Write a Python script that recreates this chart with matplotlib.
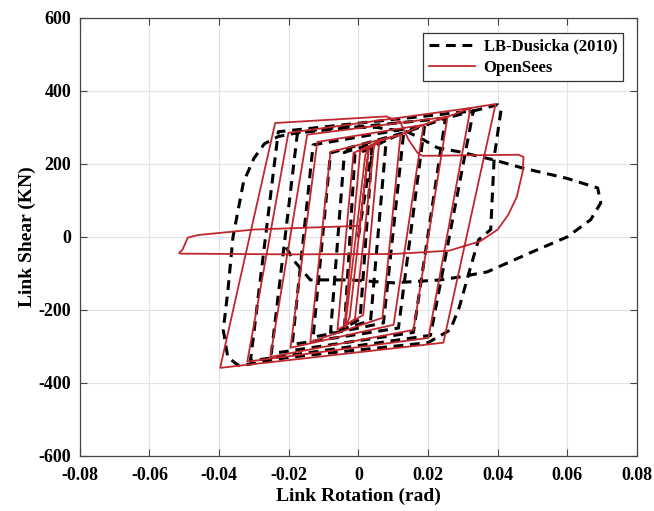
import numpy as np
import matplotlib
matplotlib.use("Agg")
import matplotlib.pyplot as plt

# Ciclos histereticos: cada ciclo = esquinas (sup-der, inf-der, inf-izq, sup-izq)
# --- LB-Dusicka (2010), ensayo ---
exp_loops_x = [
    [0.0040, 0.0005, -0.0040, -0.0010],
    [0.0080, 0.0035, -0.0080, -0.0040],
    [0.0130, 0.0072, -0.0130, -0.0080],
    [0.0190, 0.0115, -0.0190, -0.0130],
    [0.0250, 0.0158, -0.0250, -0.0175],
    [0.0330, 0.0207, -0.0310, -0.0230],
]
exp_loops_y = [
    [245, -225, -250, 225],
    [265, -230, -262, 232],
    [285, -236, -275, 230],
    [305, -250, -295, 252],
    [325, -262, -320, 285],
    [345, -270, -340, 288],
]
# ultimo ciclo y rama de fractura del ensayo
exp_final_x = [0.0330, 0.0400, 0.0410, 0.0390, 0.0380, 0.0345, 0.0320, 0.0290, 0.0264,
               0.0200, 0.0000, -0.0200, -0.0320, -0.0345, -0.0375, -0.0388, -0.0375,
               -0.0360, -0.0330, -0.0300, -0.0270, -0.0230, -0.0150, -0.0050, 0.0050,
               0.0140, 0.0187, 0.0227, 0.0290, 0.0388, 0.0470, 0.0600, 0.0687, 0.0696,
               0.0667, 0.0600, 0.0500, 0.0370, 0.0290, 0.0236, 0.0100, -0.0023,
               -0.0138, -0.0187, -0.0215]
exp_final_y = [345, 362, 350, 219, 20, -8, -90, -192, -255,
               -290, -310, -330, -350, -352, -330, -255, -150,
               0, 150, 215, 255, 275, 290, 300, 300,
               288, 266, 244, 233, 211, 189, 160, 134, 93,
               47, 0, -41, -96, -110, -118, -126, -118,
               -118, -63, -16]

# --- OpenSees ---
ops_loops_x = [
    [0.0030, -0.0025, -0.0038, 0.0020],
    [0.0045, -0.0010, -0.0040, 0.0005],
    [0.0060, 0.0014, -0.0060, -0.0014],
    [0.0121, 0.0069, -0.0138, -0.0080],
    [0.0187, 0.0101, -0.0195, -0.0118],
    [0.0256, 0.0158, -0.0253, -0.0147],
    [0.0322, 0.0201, -0.0319, -0.0201],
]
ops_loops_y = [
    [245, -220, -248, 225],
    [250, -225, -245, 235],
    [262, -214, -255, 230],
    [280, -222, -288, 233],
    [307, -241, -304, 260],
    [329, -255, -329, 280],
    [353, -277, -342, 285],
]
ops_final_x = [0.0322, 0.0394, 0.0244, -0.0397, -0.0239, 0.0080, 0.0120, 0.0144, 0.0170,
               0.0184, 0.0460, 0.0474, 0.0472, 0.0455, 0.0430, 0.0400, 0.0350, 0.0260,
               0.0100, -0.0200, -0.0510, -0.0515, -0.0505, -0.0490, -0.0460, -0.0300,
               0.0000]
ops_final_y = [353, 364, -290, -359, 312, 330, 315, 266, 230,
               222, 225, 219, 180, 110, 60, 20, -12, -38,
               -47, -48, -46, -44, -35, -2, 5, 20,
               30]


def trayectoria(loops_x, loops_y, final_x, final_y):
    xs, ys = [0.0], [0.0]
    for lx, ly in zip(loops_x, loops_y):
        xs += lx + [lx[0]]
        ys += ly + [ly[0]]
    xs += final_x
    ys += final_y
    return xs, ys


plt.rcParams['font.family'] = ['Liberation Serif', 'DejaVu Serif']
plt.rcParams['font.weight'] = 'bold'

fig = plt.figure(figsize=(6.54, 5.11), dpi=100)
ax = fig.add_axes([0.122, 0.108, 0.852, 0.857])

ex, ey = trayectoria(exp_loops_x, exp_loops_y, exp_final_x, exp_final_y)
ox, oy = trayectoria(ops_loops_x, ops_loops_y, ops_final_x, ops_final_y)

ax.plot(ex, ey, color='black', lw=2.2, ls=(0, (3.2, 2.2)), label='LB-Dusicka (2010)')
ax.plot(ox, oy, color='#c0282d', lw=1.3, label='OpenSees')

ax.set_xlim(-0.08, 0.08)
ax.set_ylim(-600, 600)
ax.set_xticks(np.arange(-0.08, 0.081, 0.02))
ax.set_yticks(np.arange(-600, 601, 200))
ax.set_xticklabels(['-0.08', '-0.06', '-0.04', '-0.02', '0', '0.02', '0.04', '0.06', '0.08'])
ax.set_yticklabels(['-600', '-400', '-200', '0', '200', '400', '600'])
ax.grid(True, color='#e2e2e2', lw=0.8)
ax.set_axisbelow(True)
ax.tick_params(direction='in', top=True, right=True, labelsize=13, length=5,
               color='#444444', width=0.8)
ax.tick_params(axis='x', pad=8)
ax.tick_params(axis='y', pad=6)
for s in ax.spines.values():
    s.set_color('#444444')
    s.set_linewidth(0.9)

ax.set_xlabel('Link Rotation (rad)', fontsize=14, fontweight='bold', labelpad=3)
ax.set_ylabel('Link Shear (KN)', fontsize=14, fontweight='bold', labelpad=2)

leg = ax.legend(loc='upper right', fontsize=12, fancybox=False, framealpha=1,
                edgecolor='#333333', handlelength=2.8, borderpad=0.35,
                labelspacing=0.3, handletextpad=0.5,
                bbox_to_anchor=(0.99, 0.985))
leg.get_frame().set_linewidth(0.9)

fig.savefig('out.png', dpi=100)
